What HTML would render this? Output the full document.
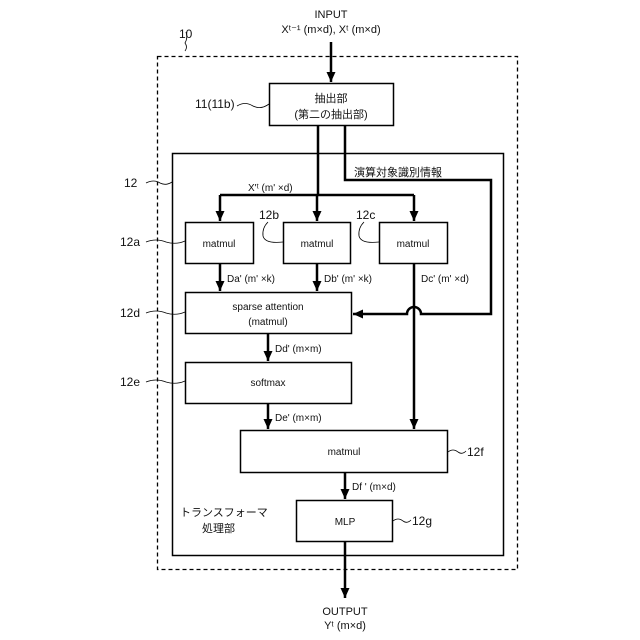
<!DOCTYPE html>
<html><head><meta charset="utf-8"><style>
html,body{margin:0;padding:0;background:#fff}
svg{display:block}
text{font-family:"Liberation Sans","Noto Sans CJK JP",sans-serif;fill:#111}
</style></head><body>
<svg width="640" height="640" viewBox="0 0 640 640" xmlns="http://www.w3.org/2000/svg">
<defs>
<marker id="a" viewBox="0 0 10 10" refX="10" refY="5" markerWidth="4.5" markerHeight="4.5" orient="auto" markerUnits="userSpaceOnUse"><path d="M0,0 L10,5 L0,10 z" fill="#000"/></marker>
<marker id="b" viewBox="0 0 10 10" refX="10" refY="5" markerWidth="10" markerHeight="10" orient="auto" markerUnits="userSpaceOnUse"><path d="M0,0.5 L10,5 L0,9.5 z" fill="#000"/></marker>
</defs>
<g fill="none" stroke="#000">
<rect x="157.5" y="56.5" width="360" height="513" stroke-width="1.3" stroke-dasharray="4,3"/>
<rect x="172.5" y="153.5" width="331" height="402" stroke-width="1.5"/>
<rect x="269.5" y="83.5" width="124" height="42" stroke-width="1.5"/>
<rect x="185.5" y="222.5" width="68" height="41" stroke-width="1.5"/>
<rect x="283.5" y="222.5" width="67" height="41" stroke-width="1.5"/>
<rect x="379.5" y="222.5" width="68" height="41" stroke-width="1.5"/>
<rect x="185.5" y="292.5" width="166" height="41" stroke-width="1.5"/>
<rect x="185.5" y="362.5" width="166" height="41" stroke-width="1.5"/>
<rect x="240.5" y="430.5" width="207" height="42" stroke-width="1.5"/>
<rect x="296.5" y="500.5" width="96" height="41" stroke-width="1.5"/>
<g stroke-width="2.5">
<path d="M331 42 V82" marker-end="url(#b)"/>
<path d="M318 126 V195"/>
<path d="M220 195 H414"/>
<path d="M220 195 V221" marker-end="url(#b)"/>
<path d="M317 195 V221" marker-end="url(#b)"/>
<path d="M414 195 V221" marker-end="url(#b)"/>
<path d="M345 126 V180 H491 V314 H421 A7 7 0 0 0 407 314 H353" marker-end="url(#b)"/>
<path d="M220 264 V291" marker-end="url(#b)"/>
<path d="M317 264 V291" marker-end="url(#b)"/>
<path d="M414 264 V429" marker-end="url(#b)"/>
<path d="M268 334 V361" marker-end="url(#b)"/>
<path d="M268 404 V429" marker-end="url(#b)"/>
<path d="M345 473 V499" marker-end="url(#b)"/>
<path d="M345 542 V598" marker-end="url(#b)"/>
</g>
<g stroke-width="0.8">
<path d="M186 32 q2 6 -1 11 q3 4 0 8"/>
<path d="M237 106 q8 -5 16 0 q8 4 16 -2"/>
<path d="M146 183 q8 -4 14 0 q6 3 12 -1"/>
<path d="M146 242 q10 -4 20 0 q10 3 19 -1"/>
<path d="M268 222 q-6 6 -5 14 q2 8 20 6"/>
<path d="M364 222 q-6 6 -5 14 q2 8 20 6"/>
<path d="M146 313 q10 -4 20 0 q10 3 19 -1"/>
<path d="M146 382 q10 -4 20 0 q10 3 19 -1"/>
<path d="M448 452 q5 -4 10 0 q4 3 8 -1"/>
<path d="M393 521 q5 -4 10 0 q4 3 8 -1"/>
</g>
</g>
<g font-size="11" text-anchor="middle">
<text x="331" y="18">INPUT</text>
<text x="331" y="33">Xᵗ⁻¹ (m×d), Xᵗ (m×d)</text>
<text x="331" y="102">抽出部</text>
<text x="331" y="118">(第二の抽出部)</text>
<text x="219" y="247" font-size="10">matmul</text>
<text x="317" y="247" font-size="10">matmul</text>
<text x="413" y="247" font-size="10">matmul</text>
<text x="268" y="310" font-size="10">sparse attention</text>
<text x="268" y="325" font-size="10">(matmul)</text>
<text x="268" y="386" font-size="10">softmax</text>
<text x="344" y="455" font-size="10">matmul</text>
<text x="345" y="525" font-size="10">MLP</text>
<text x="345" y="615">OUTPUT</text>
<text x="345" y="629">Yᵗ (m×d)</text>
</g>
<g font-size="11">
<text x="179" y="38" font-size="12">10</text>
<text x="195" y="108" font-size="12">11(11b)</text>
<text x="124" y="187" font-size="12">12</text>
<text x="120" y="246" font-size="12">12a</text>
<text x="259" y="219" font-size="12">12b</text>
<text x="356" y="219" font-size="12">12c</text>
<text x="120" y="317" font-size="12">12d</text>
<text x="120" y="386" font-size="12">12e</text>
<text x="467" y="456" font-size="12">12f</text>
<text x="412" y="525" font-size="12">12g</text>
<text x="354" y="176">演算対象識別情報</text>
<text x="248" y="191" font-size="10">X'ᵗ (m' ×d)</text>
<text x="227" y="282" font-size="10">Da' (m' ×k)</text>
<text x="324" y="282" font-size="10">Db' (m' ×k)</text>
<text x="421" y="282" font-size="10">Dc' (m' ×d)</text>
<text x="275" y="352" font-size="10">Dd' (m×m)</text>
<text x="275" y="421" font-size="10">De' (m×m)</text>
<text x="352" y="490" font-size="10">Df ' (m×d)</text>
<text x="180" y="516">トランスフォーマ</text>
<text x="202" y="532">処理部</text>
</g>
</svg>
</body></html>
